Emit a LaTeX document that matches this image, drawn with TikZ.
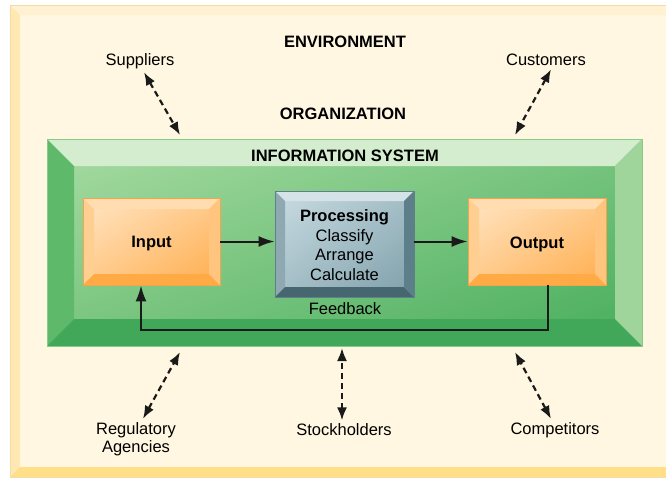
\documentclass[tikz,border=0pt]{standalone}
\usepackage{fontspec}
\setmainfont{Liberation Sans}
\usetikzlibrary{arrows.meta,fit,shadings,calc}
\definecolor{envface1}{HTML}{FFF7E1}
\definecolor{envface2}{HTML}{FFF7E1}
\definecolor{envtop}{HTML}{FFF1D2}
\definecolor{envleft}{HTML}{FFE8B2}
\definecolor{envbot}{HTML}{FFDF88}
\definecolor{envright}{HTML}{FFE8B2}
\definecolor{envline}{HTML}{F5DCA6}
\definecolor{grnface1}{HTML}{A9DCA3}
\definecolor{grnface2}{HTML}{47AD5B}
\definecolor{grntop}{HTML}{D4EDCE}
\definecolor{grnleft}{HTML}{5EB96A}
\definecolor{grnbot}{HTML}{41A85A}
\definecolor{grnright}{HTML}{9FD59A}
\definecolor{grnline}{HTML}{86CC86}
\definecolor{orgface1}{HTML}{FFE6C6}
\definecolor{orgface2}{HTML}{FFAD4C}
\definecolor{orgtop}{HTML}{FFDDB0}
\definecolor{orgleft}{HTML}{FFCF92}
\definecolor{orgbot}{HTML}{FFAA44}
\definecolor{orgright}{HTML}{FFC57E}
\definecolor{orgline}{HTML}{F2A54C}
\definecolor{prcface1}{HTML}{CADDE3}
\definecolor{prcface2}{HTML}{7E9FAA}
\definecolor{prctop}{HTML}{D5E3E8}
\definecolor{prcleft}{HTML}{8EA9B2}
\definecolor{prcbot}{HTML}{466670}
\definecolor{prcright}{HTML}{5D7F8A}
\definecolor{prcline}{HTML}{5F7F89}
\definecolor{ink}{HTML}{1A1A1A}

% name, x1, y1, x2, y2, bevel depth, colour prefix
\newcommand\bevelbox[7]{%
  \shade[upper left=#7face1, lower right=#7face2,
         upper right=#7face1!50!#7face2, lower left=#7face1!50!#7face2]
    (#2,#3) rectangle (#4,#5);
  \fill[#7top] (#2,#3) -- (#4,#3) -- (#4-#6,#3+#6) -- (#2+#6,#3+#6) -- cycle;
  \fill[#7left] (#2,#3) -- (#2+#6,#3+#6) -- (#2+#6,#5-#6) -- (#2,#5) -- cycle;
  \fill[#7bot] (#2,#5) -- (#2+#6,#5-#6) -- (#4-#6,#5-#6) -- (#4,#5) -- cycle;
  \fill[#7right] (#4,#3) -- (#4,#5) -- (#4-#6,#5-#6) -- (#4-#6,#3+#6) -- cycle;
  \node[fit={(#2,#3) (#4,#5)}, inner sep=0pt, draw=#7line, line width=0.8pt] (#1) {};
}

\begin{document}
\begin{tikzpicture}[x=1pt, y=-1pt,
    head/.style={font=\fontsize{16.5}{19.5}\selectfont\bfseries, align=center},
    lbl/.style={font=\fontsize{16.5}{19.5}\selectfont, align=center},
    flow/.style={draw=ink, line width=2pt, -{Latex[length=16pt,width=11pt]}},
    dasharrow/.style={draw=ink, line width=2.2pt, dash pattern=on 6pt off 4pt,
      {Latex[length=13pt,width=10pt]}-{Latex[length=13pt,width=10pt]}}]
  \useasboundingbox (0,0) rectangle (666,477);
  \clip (0,0) rectangle (666,477);

  % frames
  \bevelbox{envframe}{10}{5}{690}{477}{10}{env}
  \bevelbox{sysframe}{47}{139}{642}{346}{27}{grn}
  \bevelbox{input}{83}{198}{220}{285}{11}{org}
  \bevelbox{process}{275}{191}{414}{297}{10}{prc}
  \bevelbox{output}{468}{198}{606}{285}{11}{org}

  % titles
  \node[head] (env) at (345,42) {ENVIRONMENT};
  \node[head] (org) at (343,114) {ORGANIZATION};
  \node[head] (infosys) at (345,156) {INFORMATION SYSTEM};

  % box texts
  \node[head] (inputlbl) at ($(input)+(0,2.5)$) {Input};
  \node[lbl] (processlbl) at ($(process)+(0,1)$) {\textbf{Processing}\\Classify\\Arrange\\Calculate};
  \node[head] (outputlbl) at ($(output)+(0,2.5)$) {Output};
  \node[lbl] (fb) at (345,309) {Feedback};

  % outside parties
  \node[lbl] (supp) at (140,61) {Suppliers};
  \node[lbl] (cust) at (546,60) {Customers};
  \node[lbl, font=\fontsize{16.5}{18}\selectfont] (regag) at (136,439) {Regulatory\\Agencies};
  \node[lbl] (stock) at (344,430) {Stockholders};
  \node[lbl] (comp) at (555,430) {Competitors};

  \coordinate (suppend) at (180,135);
  \coordinate (custend) at (515,135);
  \coordinate (regagend) at (180,352);
  \coordinate (stockend) at (342,348);
  \coordinate (compend) at (515,352);

  % flows
  \draw[flow] (input.east) -- (input.east -| process.west);
  \draw[flow] (process.east |- output.west) -- (output.west);
  \draw[flow] ([xshift=11]output.south) -- ++(0,45) -| ([xshift=-10.5]input.south);

  % exchanges with the environment
  \draw[dasharrow] ([xshift=4]supp.south) -- (suppend);
  \draw[dasharrow] ([xshift=5]cust.south) -- (custend);
  \draw[dasharrow] ([xshift=7]regag.north) -- (regagend);
  \draw[dasharrow] ([xshift=-2]stock.north) -- (stockend);
  \draw[dasharrow] ([xshift=-4]comp.north) -- (compend);
\end{tikzpicture}
\end{document}
